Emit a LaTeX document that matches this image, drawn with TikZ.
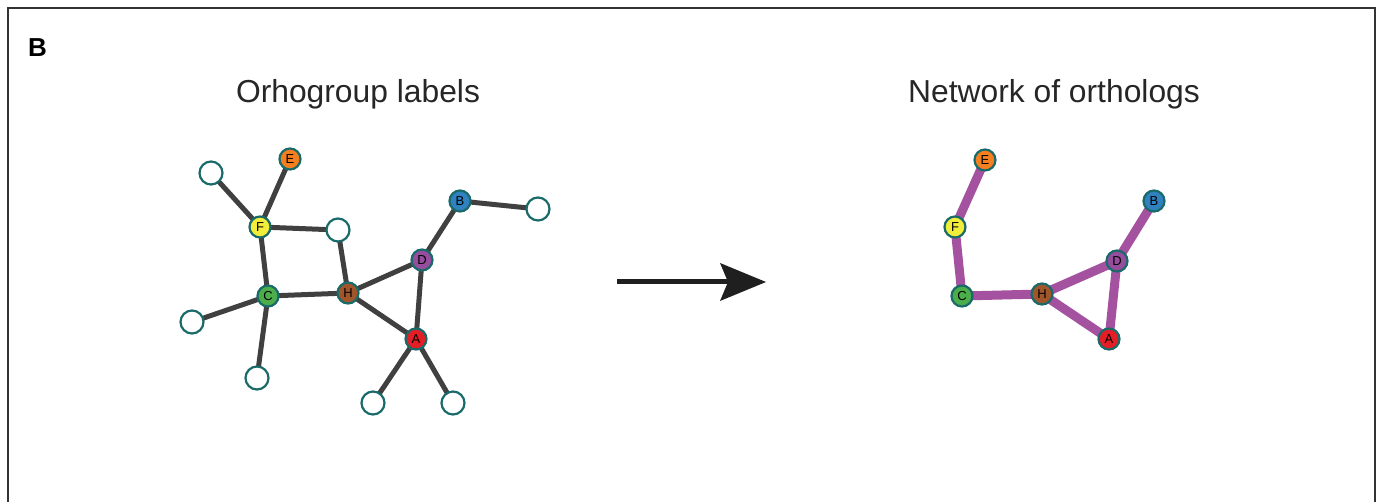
\documentclass[tikz,border=0pt]{standalone}
\usepackage{fontspec}
\setmainfont{Liberation Sans}
\definecolor{teal}{HTML}{1B6A6A}
\definecolor{edgegray}{HTML}{404040}
\definecolor{purp}{HTML}{A452A0}
\definecolor{cA}{HTML}{E31E26}
\definecolor{cB}{HTML}{3081C0}
\definecolor{cC}{HTML}{4BAE4A}
\definecolor{cD}{HTML}{964D9E}
\definecolor{cE}{HTML}{F47F20}
\definecolor{cF}{HTML}{F2EC3A}
\definecolor{cH}{HTML}{A0562A}
\begin{document}
\begin{tikzpicture}[x=1pt,y=-1pt,
  gnode/.style={circle,draw=teal,line width=2.2pt,minimum size=21pt,inner sep=0pt,font=\fontsize{13}{13}\selectfont},
  enode/.style={circle,draw=teal,line width=2.2pt,fill=white,minimum size=23pt,inner sep=0pt},
  gedge/.style={draw=edgegray,line width=5pt},
  pedge/.style={draw=purp,line width=9pt},
  title/.style={anchor=base,font=\fontsize{31.8}{36}\selectfont,text=black!85}]
\useasboundingbox (0,0) rectangle (1378,502);
\draw[line width=2pt,color=black!80] (8,502) -- (8,8) -- (1375,8) -- (1375,502);
\node[anchor=base west,font=\bfseries\fontsize{26}{26}\selectfont,inner sep=0pt] (lblB) at (28,57) {B};
\node[title] (t1) at (358,103) {Orhogroup labels};
\node[title] (t2) at (1054,103) {Network of orthologs};
% left graph
\coordinate (lE) at (290,159);
\coordinate (lF) at (260,227);
\coordinate (lB) at (460,201);
\coordinate (lD) at (422,260);
\coordinate (lC) at (268,296);
\coordinate (lH) at (348,293);
\coordinate (lA) at (416,339);
\coordinate (e1) at (211,173);
\coordinate (e2) at (338,230);
\coordinate (e3) at (538,209);
\coordinate (e4) at (192,322);
\coordinate (e5) at (257,378);
\coordinate (e6) at (373,403);
\coordinate (e7) at (453,403);
\draw[gedge] (e1) -- (lF);
\draw[gedge] (lE) -- (lF);
\draw[gedge] (lF) -- (e2);
\draw[gedge] (lF) -- (lC);
\draw[gedge] (e2) -- (lH);
\draw[gedge] (lC) -- (lH);
\draw[gedge] (lC) -- (e4);
\draw[gedge] (lC) -- (e5);
\draw[gedge] (lH) -- (lD);
\draw[gedge] (lH) -- (lA);
\draw[gedge] (lD) -- (lA);
\draw[gedge] (lD) -- (lB);
\draw[gedge] (lB) -- (e3);
\draw[gedge] (lA) -- (e6);
\draw[gedge] (lA) -- (e7);
\foreach \n in {e1,e2,e3,e4,e5,e6,e7} \node[enode] (n\n) at (\n) {};
\node[gnode,fill=cE] (nlE) at (lE) {E};
\node[gnode,fill=cF] (nlF) at (lF) {F};
\node[gnode,fill=cB] (nlB) at (lB) {B};
\node[gnode,fill=cD] (nlD) at (lD) {D};
\node[gnode,fill=cC] (nlC) at (lC) {C};
\node[gnode,fill=cH] (nlH) at (lH) {H};
\node[gnode,fill=cA] (nlA) at (lA) {A};
% arrow
\coordinate (as) at (617,282);
\coordinate (an) at (728,282);
\coordinate (at) at (766,282);
\draw[line width=5pt,color=black!88] (as) -- (an);
\fill[black!88] (at) -- (720,263) -- (an) -- (720,301) -- cycle;
% right graph
\coordinate (rE) at (985,160);
\coordinate (rF) at (955,227);
\coordinate (rB) at (1154,201);
\coordinate (rD) at (1117,261);
\coordinate (rC) at (962,296);
\coordinate (rH) at (1042,294);
\coordinate (rA) at (1109,339);
\draw[pedge] (rE) -- (rF);
\draw[pedge] (rF) -- (rC);
\draw[pedge] (rC) -- (rH);
\draw[pedge] (rH) -- (rD);
\draw[pedge] (rH) -- (rA);
\draw[pedge] (rD) -- (rA);
\draw[pedge] (rD) -- (rB);
\node[gnode,fill=cE] (nrE) at (rE) {E};
\node[gnode,fill=cF] (nrF) at (rF) {F};
\node[gnode,fill=cB] (nrB) at (rB) {B};
\node[gnode,fill=cD] (nrD) at (rD) {D};
\node[gnode,fill=cC] (nrC) at (rC) {C};
\node[gnode,fill=cH] (nrH) at (rH) {H};
\node[gnode,fill=cA] (nrA) at (rA) {A};
\end{tikzpicture}
\end{document}
